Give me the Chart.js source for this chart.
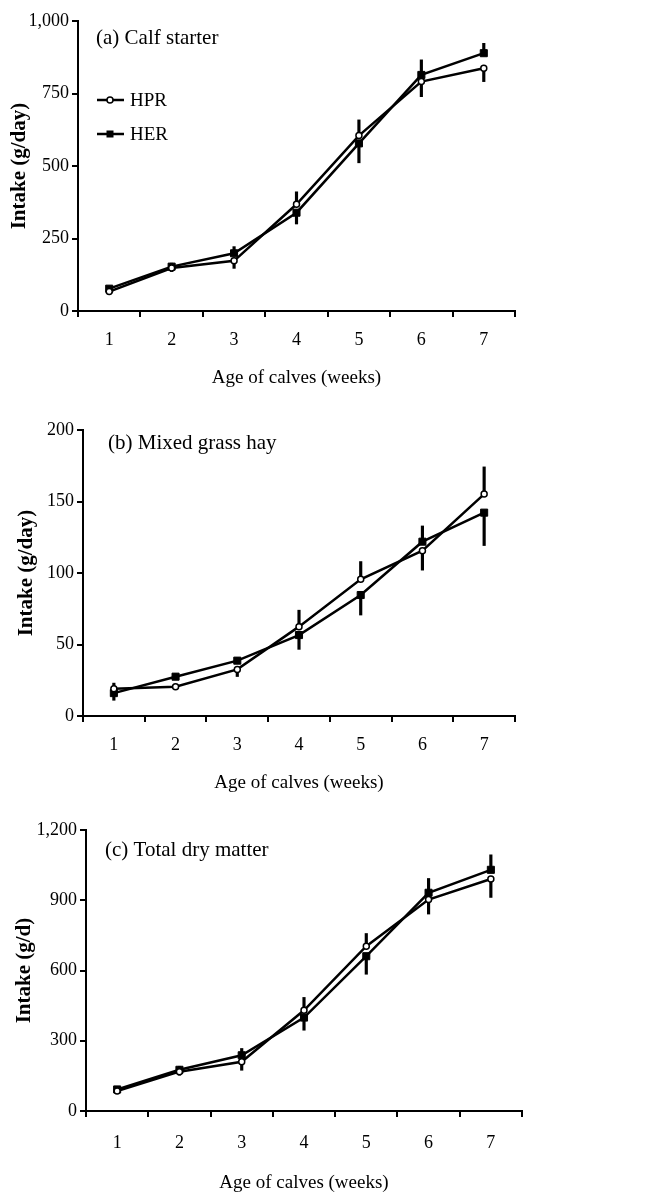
<!DOCTYPE html>
<html lang="en">
<head>
<meta charset="utf-8">
<title>Intake of calves</title>
<script src="https://cdn.jsdelivr.net/npm/chart.js"></script>
<style>
  body { margin: 0; background: #fff; }
  .panel { position: relative; width: 646px; height: 398px; }
</style>
</head>
<body>
<div class="panel"><canvas id="chartA"></canvas></div>
<div class="panel"><canvas id="chartB"></canvas></div>
<div class="panel"><canvas id="chartC"></canvas></div>

<script>
// age of calves (weeks)
var weeks = ['1', '2', '3', '4', '5', '6', '7'];

// (a) calf starter, g/day
var starterHPR = [67, 148, 173, 368, 605, 791, 837];
var starterHER = [77, 153, 199, 339, 578, 814, 889];
var starterHPRse = [8, 12, 26, 43, 54, 52, 46];
var starterHERse = [8, 12, 23, 39, 67, 52, 34];

// (b) mixed grass hay, g/day
var hayHPR = [19, 20.5, 32.6, 62.5, 95.6, 115.6, 155.2];
var hayHER = [16, 27.5, 38.7, 56.6, 84.6, 121.9, 142.2];
var hayHPRse = [4, 2, 5, 11.5, 12.4, 13.6, 19];
var hayHERse = [5, 2, 2, 10, 14, 11, 23];

// (c) total dry matter, g/d
var dmHPR = [85, 168, 210, 430, 704, 903, 991];
var dmHER = [92, 176, 238, 399, 661, 932, 1030];
var dmHPRse = [10, 15, 36, 55, 54, 62, 79];
var dmHERse = [10, 15, 29, 54, 77, 61, 64];

Chart.defaults.font.family = '"Liberation Serif", "Times New Roman", serif';
Chart.defaults.color = '#000';

// the upper series gets its bar going up, the lower one going down
function errorBars(own, other, se) {
  return own.map(function (v, i) {
    return v >= other[i] ? [v, v + se[i]] : [v - se[i], v];
  });
}

var panelTitle = {
  id: 'panelTitle',
  afterDraw: function (chart, args, opts) {
    var ctx = chart.ctx, area = chart.chartArea;
    ctx.save();
    ctx.font = '21px "Liberation Serif"';
    ctx.fillStyle = '#000';
    ctx.textBaseline = 'middle';
    ctx.fillText(opts.text, area.left + opts.dx, area.top + opts.dy);
    ctx.restore();
  }
};

var lineLegend = {
  id: 'lineLegend',
  afterDraw: function (chart, args, opts) {
    if (!opts.show) return;
    var ctx = chart.ctx, area = chart.chartArea;
    var x = area.left + opts.dx;
    var y = area.top + opts.dy;
    ctx.save();
    chart.data.datasets.forEach(function (ds) {
      if (ds.type !== 'line') return;
      ctx.strokeStyle = '#000';
      ctx.lineWidth = 2.5;
      ctx.beginPath();
      ctx.moveTo(x, y);
      ctx.lineTo(x + 27, y);
      ctx.stroke();
      ctx.lineWidth = 1.5;
      if (ds.pointStyle === 'circle') {
        ctx.beginPath();
        ctx.arc(x + 13, y, 3, 0, Math.PI * 2);
        ctx.fillStyle = '#fff';
        ctx.fill();
        ctx.stroke();
      } else {
        ctx.fillStyle = '#000';
        ctx.fillRect(x + 9.5, y - 3.5, 7, 7);
      }
      ctx.fillStyle = '#000';
      ctx.font = '19px "Liberation Serif"';
      ctx.textBaseline = 'middle';
      ctx.fillText(ds.label, x + 33, y + 1);
      y += opts.gap;
    });
    ctx.restore();
  }
};

function makeChart(id, p) {
  var ctx = document.getElementById(id).getContext('2d');
  return new Chart(ctx, {
    data: {
      labels: weeks,
      datasets: [
        {
          type: 'line', label: 'HPR', data: p.hpr, order: 1,
          borderColor: '#000', borderWidth: 2.5, tension: 0,
          pointStyle: 'circle', pointRadius: 3, pointBorderWidth: 1.5,
          pointBackgroundColor: '#fff', pointBorderColor: '#000'
        },
        {
          type: 'line', label: 'HER', data: p.her, order: 1,
          borderColor: '#000', borderWidth: 2.5, tension: 0,
          pointStyle: 'rect', pointRadius: 5, pointBorderWidth: 1,
          pointBackgroundColor: '#000', pointBorderColor: '#000'
        },
        {
          type: 'bar', label: 'HPR se', data: errorBars(p.hpr, p.her, p.hprSe),
          backgroundColor: '#000', barThickness: 2.5, grouped: false, order: 2
        },
        {
          type: 'bar', label: 'HER se', data: errorBars(p.her, p.hpr, p.herSe),
          backgroundColor: '#000', barThickness: 2.5, grouped: false, order: 2
        }
      ]
    },
    options: {
      responsive: true,
      maintainAspectRatio: false,
      animation: false,
      layout: { padding: { left: 0, top: p.top, right: 646 - p.right, bottom: 0 } },
      scales: {
        x: {
          type: 'category',
          offset: true,
          afterFit: function (scale) { scale.height = 398 - p.bottom; },
          grid: { offset: true, drawOnChartArea: false, drawTicks: true, tickLength: 6, color: '#000', lineWidth: 2 },
          border: { display: true, color: '#000', width: 2 },
          ticks: { font: { size: 18 }, padding: p.xPad, maxRotation: 0 },
          title: { display: true, text: 'Age of calves (weeks)', font: { size: 19 }, padding: { top: 0, bottom: p.xTitlePad } }
        },
        y: {
          min: 0, max: p.max,
          afterFit: function (scale) { scale.width = p.left; },
          grid: { drawOnChartArea: false, drawTicks: true, tickLength: 6, color: '#000', lineWidth: 2 },
          border: { display: true, color: '#000', width: 2 },
          ticks: { stepSize: p.step, font: { size: 18 }, padding: 3 },
          title: { display: true, text: p.yTitle, font: { size: 21, weight: 'bold' }, padding: { top: p.yTitlePad, bottom: 0 } }
        }
      },
      plugins: {
        legend: { display: false },
        tooltip: { enabled: false },
        panelTitle: { text: p.title, dx: p.titleDx, dy: p.titleDy },
        lineLegend: { show: p.legend, dx: 19, dy: 79, gap: 34 }
      }
    },
    plugins: [panelTitle, lineLegend]
  });
}

makeChart('chartA', {
  hpr: starterHPR, her: starterHER, hprSe: starterHPRse, herSe: starterHERse,
  max: 1000, step: 250, yTitle: 'Intake (g/day)', title: '(a) Calf starter',
  left: 78, right: 515, top: 21, bottom: 311,
  xPad: 12, xTitlePad: 9, yTitlePad: 7, titleDx: 18, titleDy: 17, legend: true
});

makeChart('chartB', {
  hpr: hayHPR, her: hayHER, hprSe: hayHPRse, herSe: hayHERse,
  max: 200, step: 50, yTitle: 'Intake (g/day)', title: '(b) Mixed grass hay',
  left: 83, right: 515, top: 32, bottom: 318,
  xPad: 12, xTitlePad: 2, yTitlePad: 14, titleDx: 25, titleDy: 13, legend: false
});

makeChart('chartC', {
  hpr: dmHPR, her: dmHER, hprSe: dmHPRse, herSe: dmHERse,
  max: 1200, step: 300, yTitle: 'Intake (g/d)', title: '(c) Total dry matter',
  left: 86, right: 522, top: 34, bottom: 315,
  xPad: 15, xTitlePad: 0, yTitlePad: 12, titleDx: 19, titleDy: 20, legend: false
});
</script>
</body>
</html>
